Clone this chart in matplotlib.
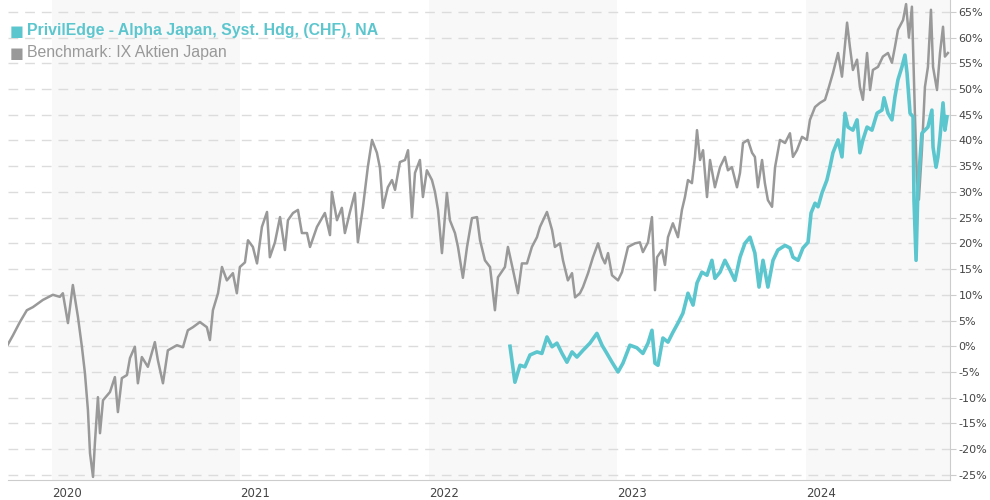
import numpy as np
import matplotlib
matplotlib.use("Agg")
import matplotlib.pyplot as plt

# time axis in decimal years, values in % performance
bench_t = [2019.761, 2019.793, 2019.830, 2019.867, 2019.899, 2019.952, 2020.005, 2020.042, 2020.058, 2020.085,
           2020.111, 2020.138, 2020.159, 2020.175, 2020.191, 2020.202, 2020.218, 2020.228, 2020.244, 2020.255,
           2020.271, 2020.308, 2020.334, 2020.350, 2020.371, 2020.398, 2020.414, 2020.440, 2020.456, 2020.477,
           2020.509, 2020.546, 2020.562, 2020.589, 2020.615, 2020.663, 2020.695, 2020.721, 2020.748, 2020.785,
           2020.822, 2020.838, 2020.854, 2020.881, 2020.902, 2020.928, 2020.960, 2020.981, 2020.997, 2021.024,
           2021.040, 2021.066, 2021.088, 2021.114, 2021.141, 2021.156, 2021.183, 2021.210, 2021.236, 2021.252,
           2021.279, 2021.305, 2021.326, 2021.353, 2021.369, 2021.406, 2021.448, 2021.475, 2021.485, 2021.512,
           2021.538, 2021.554, 2021.581, 2021.607, 2021.623, 2021.650, 2021.676, 2021.698, 2021.724, 2021.740,
           2021.756, 2021.782, 2021.804, 2021.820, 2021.846, 2021.873, 2021.889, 2021.910, 2021.926, 2021.952,
           2021.968, 2021.989, 2022.016, 2022.032, 2022.048, 2022.069, 2022.095, 2022.111, 2022.138, 2022.154,
           2022.180, 2022.202, 2022.228, 2022.255, 2022.271, 2022.297, 2022.324, 2022.350, 2022.366, 2022.403,
           2022.419, 2022.446, 2022.472, 2022.493, 2022.520, 2022.546, 2022.573, 2022.589, 2022.626, 2022.653,
           2022.668, 2022.695, 2022.711, 2022.737, 2022.759, 2022.775, 2022.801, 2022.817, 2022.844, 2022.870,
           2022.897, 2022.918, 2022.934, 2022.950, 2022.971, 2023.003, 2023.024, 2023.056, 2023.093, 2023.119,
           2023.135, 2023.162, 2023.183, 2023.199, 2023.210, 2023.236, 2023.252, 2023.268, 2023.294, 2023.321,
           2023.342, 2023.358, 2023.374, 2023.395, 2023.411, 2023.422, 2023.438, 2023.454, 2023.475, 2023.491,
           2023.517, 2023.544, 2023.570, 2023.586, 2023.607, 2023.634, 2023.650, 2023.666, 2023.692, 2023.714,
           2023.729, 2023.745, 2023.767, 2023.782, 2023.798, 2023.820, 2023.836, 2023.862, 2023.889, 2023.915,
           2023.931, 2023.952, 2023.979, 2024.005, 2024.021, 2024.048, 2024.074, 2024.101, 2024.117, 2024.143,
           2024.170, 2024.191, 2024.218, 2024.233, 2024.249, 2024.271, 2024.286, 2024.302, 2024.324, 2024.340,
           2024.355, 2024.382, 2024.408, 2024.435, 2024.456, 2024.472, 2024.488, 2024.515, 2024.531, 2024.546,
           2024.562, 2024.578, 2024.589, 2024.599, 2024.615, 2024.631, 2024.647, 2024.663, 2024.674, 2024.695,
           2024.711, 2024.727, 2024.737, 2024.753]
bench_v = [0.0, 2.1, 4.7, 7.0, 7.6, 9.0, 10.0, 9.6, 10.3, 4.5,
           11.9, 5.7, -0.1, -5.2, -12.4, -20.8, -25.4, -18.8, -9.9, -16.9,
           -10.5, -8.9, -6.0, -12.8, -6.2, -5.6, -2.3, -0.1, -7.2, -2.1,
           -4.0, 0.8, -2.7, -7.2, -0.8, 0.2, -0.2, 3.1, 3.7, 4.7,
           3.7, 1.2, 7.0, 10.3, 15.4, 12.8, 14.2, 10.3, 15.4, 16.3,
           20.6, 19.3, 16.1, 23.2, 26.1, 17.3, 20.2, 25.1, 18.7, 24.5,
           25.9, 26.5, 22.0, 22.0, 19.3, 23.2, 25.9, 21.6, 30.0, 24.5,
           26.9, 22.0, 26.1, 29.8, 20.2, 27.1, 34.9, 40.1, 37.6, 34.7,
           26.9, 30.9, 32.3, 30.4, 35.8, 36.2, 38.1, 25.1, 33.7, 36.2,
           29.0, 34.2, 32.3, 30.0, 26.5, 18.1, 29.8, 24.5, 22.0, 19.3,
           13.3, 19.3, 24.9, 25.1, 20.6, 16.7, 15.4, 7.0, 13.4, 15.4,
           19.3, 14.8, 10.3, 16.1, 16.1, 19.3, 21.2, 23.2, 26.1, 22.6,
           19.3, 20.0, 16.7, 12.8, 14.2, 9.5, 10.3, 11.5, 14.2, 17.3,
           20.0, 17.3, 16.1, 18.1, 13.8, 12.8, 14.4, 19.3, 20.0, 20.2,
           18.3, 20.2, 25.1, 10.9, 17.3, 18.7, 15.8, 21.2, 23.9, 21.2,
           26.5, 29.0, 32.3, 31.7, 36.8, 42.0, 36.2, 38.1, 29.0, 36.2,
           30.9, 34.8, 36.8, 34.2, 34.8, 30.9, 33.7, 39.5, 40.1, 37.6,
           36.8, 30.9, 36.2, 31.7, 28.4, 27.1, 34.8, 40.1, 39.5, 41.4,
           36.8, 38.1, 40.7, 40.1, 44.0, 46.5, 47.3, 47.9, 49.8, 53.1,
           57.0, 52.4, 62.9, 58.2, 53.7, 55.7, 50.4, 47.9, 57.0, 49.8,
           53.7, 54.3, 56.3, 57.0, 55.1, 58.2, 61.5, 63.4, 66.5, 60.0,
           66.0, 45.0, 32.0, 28.5, 38.1, 50.4, 54.3, 65.4, 54.3, 49.8,
           57.0, 62.1, 56.3, 57.0]

fund_t = [2022.430, 2022.456, 2022.483, 2022.509, 2022.536, 2022.573, 2022.599, 2022.626, 2022.653, 2022.679,
          2022.706, 2022.732, 2022.759, 2022.785, 2022.817, 2022.854, 2022.891, 2022.918, 2022.944, 2022.971,
          2023.003, 2023.029, 2023.066, 2023.103, 2023.135, 2023.162, 2023.183, 2023.199, 2023.215, 2023.241,
          2023.268, 2023.294, 2023.321, 2023.347, 2023.374, 2023.401, 2023.422, 2023.448, 2023.475, 2023.501,
          2023.517, 2023.544, 2023.570, 2023.597, 2023.623, 2023.650, 2023.676, 2023.703, 2023.729, 2023.751,
          2023.772, 2023.798, 2023.825, 2023.851, 2023.889, 2023.915, 2023.931, 2023.958, 2023.984, 2024.011,
          2024.027, 2024.048, 2024.064, 2024.085, 2024.111, 2024.127, 2024.143, 2024.170, 2024.191, 2024.207,
          2024.223, 2024.249, 2024.271, 2024.286, 2024.302, 2024.324, 2024.350, 2024.377, 2024.403, 2024.414,
          2024.435, 2024.456, 2024.472, 2024.488, 2024.509, 2024.525, 2024.536, 2024.552, 2024.568, 2024.573,
          2024.584, 2024.594, 2024.615, 2024.631, 2024.647, 2024.668, 2024.674, 2024.690, 2024.700, 2024.711,
          2024.727, 2024.737, 2024.748]
fund_v = [0.0, -7.0, -3.7, -4.0, -1.7, -1.1, -1.4, 1.8, -0.1, 0.6,
          -1.4, -3.1, -1.1, -2.1, -0.8, 0.6, 2.5, 0.2, -1.4, -3.1,
          -5.0, -3.3, 0.2, -0.3, -1.4, 0.6, 3.1, -3.3, -3.7, 1.6,
          0.8, 2.7, 4.5, 6.4, 10.3, 8.0, 12.3, 14.4, 13.8, 16.7,
          13.2, 14.4, 16.7, 14.8, 12.8, 17.3, 20.0, 21.2, 18.1, 11.5,
          16.7, 11.5, 16.7, 18.7, 19.6, 19.1, 17.3, 16.7, 19.1, 20.2,
          25.9, 27.8, 27.1, 29.8, 32.3, 34.8, 37.6, 40.1, 36.8, 45.3,
          42.6, 42.0, 44.0, 37.6, 40.1, 42.6, 42.0, 45.3, 45.9, 48.3,
          45.3, 44.0, 48.5, 51.8, 54.3, 56.6, 53.1, 45.3, 44.6, 28.4,
          16.7, 30.9, 41.4, 42.0, 42.6, 45.9, 38.7, 34.8, 36.8, 40.7,
          47.3, 42.0, 44.6]

years = [2020, 2021, 2022, 2023, 2024]
yticks = list(range(-25, 70, 5))

fund_name = "PrivilEdge - Alpha Japan, Syst. Hdg, (CHF), NA"
bench_name = "Benchmark: IX Aktien Japan"
teal = "#5cc6ce"
grey = "#999999"

fig = plt.figure(figsize=(9.9, 5.0), dpi=100)
ax = fig.add_axes([8/990, 20/500, 942/990, 480/500])

xmin, xmax = 2019.767, 2024.764
ax.set_xlim(xmin, xmax)
ax.set_ylim(-26, 67.3)

# shaded alternate years
for y in [2020, 2022, 2024]:
    ax.axvspan(y, min(y + 1, xmax), color="#f8f8f8", zorder=0, lw=0)

for v in yticks:
    ax.axhline(v, color="#dcdcdc", lw=1, ls=(0, (7, 5)), zorder=1)

ax.plot(bench_t, bench_v, color=grey, lw=1.8, zorder=2, solid_joinstyle="round")
ax.plot(fund_t, fund_v, color=teal, lw=2.6, zorder=3, solid_joinstyle="round")

ax.yaxis.tick_right()
ax.set_yticks(yticks)
ax.set_yticklabels([f"{v}%" for v in yticks], fontsize=8, color="#444444")
ax.tick_params(axis="y", length=4, color="#cccccc", pad=2)
ax.set_xticks(years)
ax.set_xticklabels([str(y) for y in years], fontsize=8.5, color="#444444", ha="left")
ax.tick_params(axis="x", length=0, pad=5)

for s in ["top", "left"]:
    ax.spines[s].set_visible(False)
ax.spines["right"].set_color("#cccccc")
ax.spines["bottom"].set_color("#cccccc")

# legend
fig.text(10/990, 1 - 31/500, "■", color=teal, fontsize=10.5, va="center", family="DejaVu Sans")
fig.text(27/990, 1 - 31/500, fund_name, color=teal, fontsize=11.4, fontweight="bold",
         va="center", family="Liberation Sans")
fig.text(10/990, 1 - 53/500, "■", color=grey, fontsize=10.5, va="center", family="DejaVu Sans")
fig.text(27/990, 1 - 53/500, bench_name, color=grey, fontsize=11.4,
         va="center", family="Liberation Sans")

fig.savefig("out.png", dpi=100)
